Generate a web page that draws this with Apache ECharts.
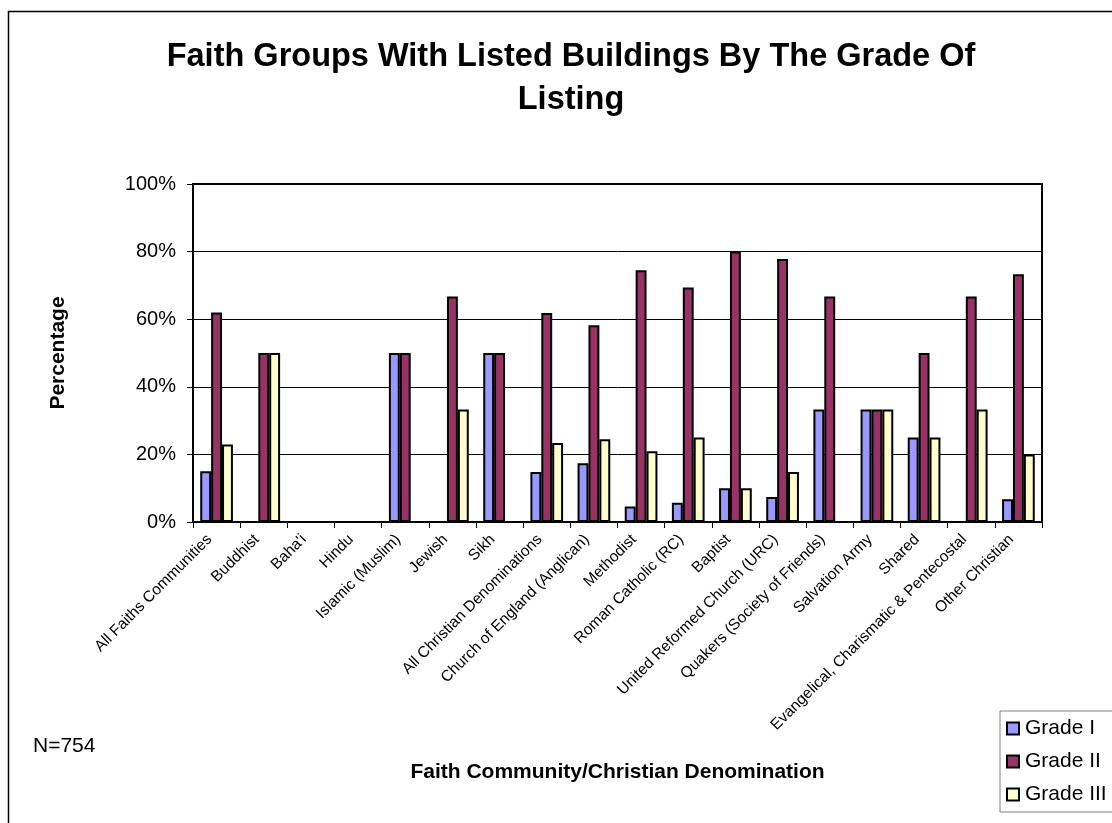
<!DOCTYPE html>
<html>
<head>
<meta charset="utf-8">
<title>Faith Groups With Listed Buildings By The Grade Of Listing</title>
<script src="https://cdn.jsdelivr.net/npm/echarts@6/dist/echarts.min.js"></script>
<style>
  html, body { margin: 0; padding: 0; background: #fff; }
  #chart { width: 1112px; height: 823px; }
</style>
</head>
<body>
<div id="chart"></div>
<script>
// Faith communities / denominations along the x axis
const categories = [
  'All Faiths Communities', 'Buddhist', "Baha'i", 'Hindu', 'Islamic (Muslim)',
  'Jewish', 'Sikh', 'All Christian Denominations', 'Church of England (Anglican)',
  'Methodist', 'Roman Catholic (RC)', 'Baptist', 'United Reformed Church (URC)',
  'Quakers (Society of Friends)', 'Salvation Army', 'Shared',
  'Evangelical, Charismatic & Pentecostal', 'Other Christian'
];

// Share of listed buildings (%) in each grade
const gradeI   = [15, 0, 0, 0, 50, 0, 50, 14.8, 17.4, 4.6, 5.7, 10, 7.4, 33.3, 33.3, 25, 0, 6.7];
const gradeII  = [62, 50, 0, 0, 50, 66.7, 50, 61.8, 58.2, 74.5, 69.4, 80, 77.8, 66.7, 33.3, 50, 66.7, 73.3];
const gradeIII = [22.9, 50, 0, 0, 0, 33.3, 0, 23.4, 24.5, 20.9, 25, 10, 14.8, 0, 33.3, 25, 33.3, 20];

const seriesNames = ['Grade I', 'Grade II', 'Grade III'];
const seriesColors = ['#9999FF', '#993366', '#FFFFCC'];
const yTicks = [0, 20, 40, 60, 80, 100];

const FONT = '"Liberation Sans", Arial, sans-serif';
const chart = echarts.init(document.getElementById('chart'), null, { renderer: 'canvas' });

const makeSeries = (name, data, color) => ({
  name: name,
  type: 'bar',
  data: data,
  barWidth: 10.9,
  barGap: '0%',
  itemStyle: { color: color, borderColor: '#000', borderWidth: 2 },
  emphasis: { disabled: true }
});

chart.setOption({
  animation: false,
  backgroundColor: '#fff',
  title: {
    text: 'Faith Groups With Listed Buildings By The Grade Of\nListing',
    left: 566,
    top: 31,
    textAlign: 'center',
    textStyle: {
      fontFamily: FONT, fontSize: 32.5, fontWeight: 'bold', color: '#000', lineHeight: 43
    }
  },
  legend: {
    orient: 'vertical',
    left: 1000,
    top: 711,
    padding: [7, 12, 7, 6],
    itemGap: 12,
    itemWidth: 12,
    itemHeight: 12,
    icon: 'rect',
    borderColor: '#808080',
    borderWidth: 1,
    textStyle: { fontFamily: FONT, fontSize: 21, color: '#000', lineHeight: 21, padding: [0, 0, 0, 1] },
    data: seriesNames
  },
  grid: {
    left: 193, top: 184, width: 849, height: 338,
    show: true, borderColor: '#000', borderWidth: 2, backgroundColor: '#fff'
  },
  xAxis: {
    type: 'category',
    data: categories,
    name: 'Faith Community/Christian Denomination',
    nameLocation: 'middle',
    nameGap: 240,
    nameTextStyle: { fontFamily: FONT, fontSize: 21, fontWeight: 'bold', color: '#000' },
    axisLine: { lineStyle: { color: '#000', width: 2 } },
    axisTick: { show: true, alignWithLabel: false, length: 6, lineStyle: { color: '#000', width: 1 } },
    axisLabel: {
      interval: 0, rotate: 45, margin: 8,
      padding: [0, 10, 0, 0],
      fontFamily: FONT, fontSize: 15.5, color: '#000'
    },
    splitLine: { show: false }
  },
  yAxis: {
    type: 'value',
    min: yTicks[0],
    max: yTicks[yTicks.length - 1],
    interval: yTicks[1] - yTicks[0],
    name: 'Percentage',
    nameLocation: 'middle',
    nameGap: 124,
    nameTextStyle: { fontFamily: FONT, fontSize: 21, fontWeight: 'bold', color: '#000' },
    axisLine: { show: true, lineStyle: { color: '#000', width: 2 } },
    axisTick: { show: true, length: 6, lineStyle: { color: '#000', width: 1 } },
    axisLabel: {
      margin: 17, fontFamily: FONT, fontSize: 20, color: '#000',
      formatter: '{value}%'
    },
    splitLine: { show: true, lineStyle: { color: '#000', width: 1 } }
  },
  graphic: [
    {
      type: 'rect',
      shape: { x: 8.5, y: 11.5, width: 1112, height: 820 },
      style: { fill: 'none', stroke: '#000', lineWidth: 1.5 },
      z: -1
    },
    {
      type: 'text',
      left: 33,
      top: 736,
      style: { text: 'N=754', font: '21px ' + FONT, fill: '#000' }
    }
  ],
  series: [
    makeSeries(seriesNames[0], gradeI, seriesColors[0]),
    makeSeries(seriesNames[1], gradeII, seriesColors[1]),
    makeSeries(seriesNames[2], gradeIII, seriesColors[2])
  ]
});
</script>
</body>
</html>
